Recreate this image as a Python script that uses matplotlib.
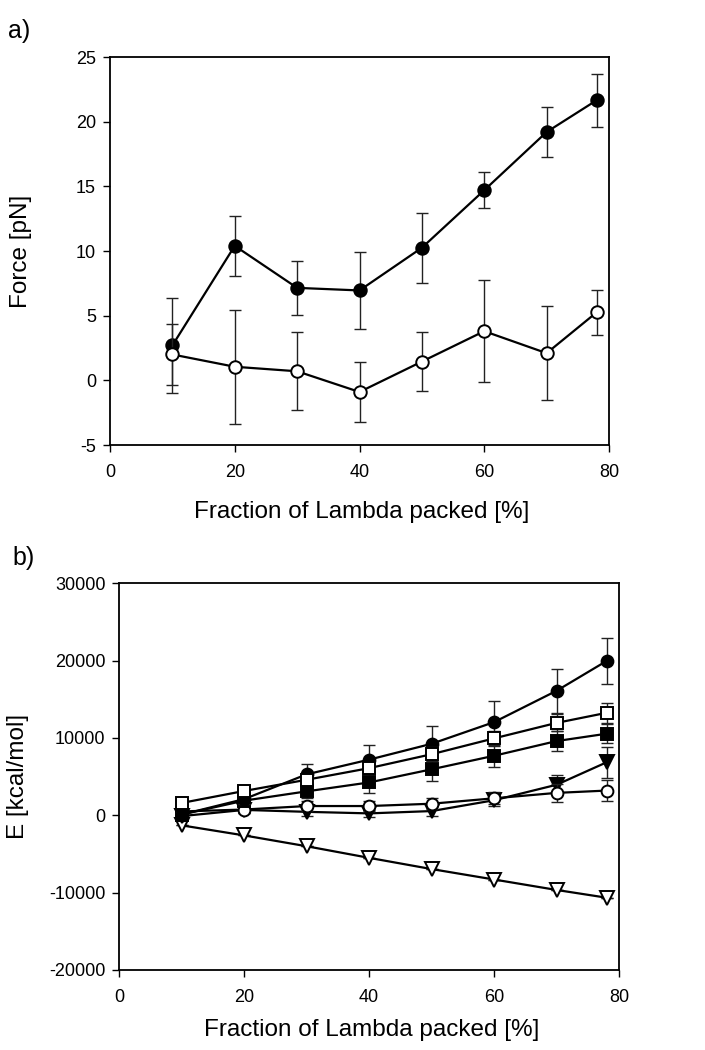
import matplotlib
matplotlib.use("Agg")
import matplotlib.pyplot as plt
import numpy as np

plt.rcParams['font.family'] = ['Liberation Sans', 'DejaVu Sans']
plt.rcParams['axes.unicode_minus'] = False

# ---- Panel a data ----
x_a = [10, 20, 30, 40, 50, 60, 70, 78]
force_filled = [2.7, 10.4, 7.15, 6.95, 10.25, 14.7, 19.2, 21.65]
force_filled_err = [3.7, 2.3, 2.1, 3.0, 2.7, 1.4, 1.9, 2.05]
force_open = [2.0, 1.05, 0.7, -0.9, 1.45, 3.8, 2.1, 5.25]
force_open_err = [2.35, 4.4, 3.0, 2.35, 2.3, 3.95, 3.65, 1.75]

# ---- Panel b data ----
x_b = [10, 20, 30, 40, 50, 60, 70, 78]
e_filled_circle = [100, 2100, 5300, 7200, 9250, 12050, 16100, 19950]
e_filled_circle_err = [300, 600, 1300, 1850, 2250, 2700, 2850, 2950]
e_open_square = [1600, 3150, 4600, 6100, 7900, 9950, 11950, 13250]
e_open_square_err = [300, 500, 700, 800, 900, 1000, 1100, 1250]
e_filled_square = [100, 1900, 3100, 4250, 5950, 7700, 9600, 10550]
e_filled_square_err = [300, 600, 900, 1300, 1550, 1400, 1250, 1250]
e_filled_tri = [-100, 700, 450, 250, 550, 1950, 3950, 6850]
e_filled_tri_err = [300, 400, 500, 500, 600, 700, 1300, 2000]
e_open_circle = [500, 750, 1200, 1200, 1500, 2200, 2900, 3200]
e_open_circle_err = [300, 500, 600, 700, 700, 800, 1200, 1400]
e_open_tri = [-1300, -2600, -4000, -5500, -6950, -8300, -9650, -10650]
e_open_tri_err = [0, 0, 0, 0, 0, 0, 0, 0]

fig = plt.figure(figsize=(7.05, 10.5), dpi=100)

ax1 = fig.add_axes([110/705, 1-445/1050, (609-110)/705, (445-57)/1050])
ax2 = fig.add_axes([119.3/705, 1-970/1050, (619-119.3)/705, (970-583.3)/1050])

lw = 1.6
ekw = dict(elinewidth=1.0, capsize=4.5, capthick=1.0, ecolor='#222222')

def series(ax, x, y, err, marker, filled, ms, z):
    ax.errorbar(x, y, yerr=err, fmt='none', zorder=z, **ekw)
    ax.plot(x, y, '-', color='black', lw=lw, marker=marker, ms=ms,
            mfc='black' if filled else 'white', mec='black', mew=1.4, zorder=z + 0.5)

series(ax1, x_a, force_filled, force_filled_err, 'o', True, 9, 3)
series(ax1, x_a, force_open, force_open_err, 'o', False, 9, 4)

ax1.set_xlim(0, 80)
ax1.set_ylim(-5, 25)
ax1.set_xticks([0, 20, 40, 60, 80])
ax1.set_yticks([-5, 0, 5, 10, 15, 20, 25])
ax1.set_xlabel('Fraction of Lambda packed [%]', fontsize=17.5, va='center')
ax1.set_ylabel('Force [pN]', fontsize=17.5, va='center')
ax1.xaxis.set_label_coords((362 - 110) / 499, (445 - 512) / 388)
ax1.yaxis.set_label_coords((21 - 110) / 499, 0.5)

ms_b = 8.5
series(ax2, x_b, e_open_tri, e_open_tri_err, 'v', False, ms_b + 1, 3)
series(ax2, x_b, e_filled_tri, e_filled_tri_err, 'v', True, ms_b + 1, 4)
series(ax2, x_b, e_open_circle, e_open_circle_err, 'o', False, ms_b, 5)
series(ax2, x_b, e_filled_square, e_filled_square_err, 's', True, ms_b, 6)
series(ax2, x_b, e_filled_circle, e_filled_circle_err, 'o', True, ms_b, 7)
series(ax2, x_b, e_open_square, e_open_square_err, 's', False, ms_b, 8)

ax2.set_xlim(0, 80)
ax2.set_ylim(-20000, 30000)
ax2.set_xticks([0, 20, 40, 60, 80])
ax2.set_yticks([-20000, -10000, 0, 10000, 20000, 30000])
ax2.set_xlabel('Fraction of Lambda packed [%]', fontsize=17.5, va='center')
ax2.set_ylabel('E [kcal/mol]', fontsize=17.5, va='center')
ax2.xaxis.set_label_coords((372 - 119.3) / 499.7, (970 - 1030) / 386.7)
ax2.yaxis.set_label_coords((18 - 119.3) / 499.7, 0.5)

for ax in (ax1, ax2):
    for s in ax.spines.values():
        s.set_linewidth(1.3)
    ax.tick_params(direction='out', length=5, width=1.0, labelsize=13,
                   top=False, right=False)
    ax.tick_params(axis='x', pad=9)
    ax.tick_params(axis='y', pad=5)

fig.text(8/705, 1-31/1050, 'a)', fontsize=18, va='center', ha='left')
fig.text(12/705, 1-558/1050, 'b)', fontsize=18, va='center', ha='left')

fig.savefig('out.png', dpi=100)
